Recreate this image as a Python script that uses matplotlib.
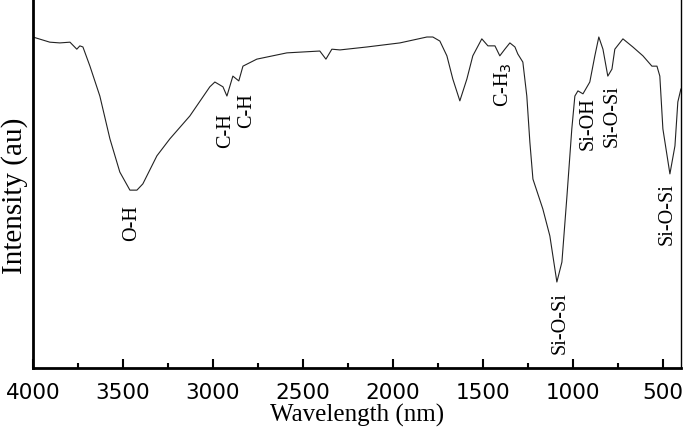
import matplotlib
matplotlib.use('Agg')
import matplotlib.pyplot as plt
from matplotlib.ticker import MultipleLocator

# spectrum (wavenumber, intensity 0-100)
wavenumber = [4000, 3906, 3850, 3794, 3756, 3739, 3722, 3683, 3628, 3572,
              3517, 3461, 3422, 3389, 3311, 3239, 3128, 3017, 2989, 2944,
              2922, 2889, 2856, 2833, 2756, 2589, 2406, 2372, 2339, 2294,
              2144, 1961, 1811, 1778, 1739, 1700, 1667, 1628, 1589, 1556,
              1506, 1472, 1433, 1406, 1378, 1350, 1322, 1306, 1278, 1256,
              1239, 1222, 1167, 1128, 1089, 1061, 1033, 1006, 989, 972,
              944, 906, 878, 856, 833, 806, 783, 767, 722, 667,
              611, 561, 533, 517, 500, 461, 433, 417, 400]
intensity = [89.7, 88.3, 88.1, 88.3, 86.4, 87.3, 87.0, 81.8, 73.7, 62.1,
             53.1, 48.2, 48.2, 49.9, 57.5, 62.1, 68.3, 76.2, 77.5, 76.2,
             73.7, 79.1, 77.8, 81.8, 83.7, 85.4, 85.9, 83.7, 86.4, 86.2,
             87.0, 88.1, 89.7, 89.7, 88.6, 84.6, 78.3, 72.4, 78.3, 84.6,
             89.2, 87.3, 87.3, 84.6, 86.4, 88.1, 87.0, 85.1, 82.9, 73.7,
             61.2, 51.2, 43.1, 35.8, 23.3, 28.7, 46.6, 64.8, 73.7, 75.1,
             74.3, 77.5, 84.6, 89.7, 86.4, 79.1, 81.0, 86.4, 89.2, 87.0,
             84.6, 81.8, 81.8, 79.1, 64.8, 52.6, 60.2, 72.1, 75.6]

# band labels
band_names = ['O-H', 'C-H', 'C-H', 'C-H$_3$', 'Si-OH', 'Si-O-Si', 'Si-O-Si', 'Si-O-Si']
band_pos = [3450, 2928, 2811, 1389, 917, 783, 1072, 478]
band_top = [44.4, 69.4, 74.8, 83.2, 73.7, 77.0, 20.9, 50.4]

serif = ['Liberation Serif', 'DejaVu Serif']

fig = plt.figure(figsize=(6.85, 4.31), dpi=100)
ax = fig.add_axes([0.048, 0.1439, 0.946, 0.8561])

ax.plot(wavenumber, intensity, color='#222222', linewidth=0.8)

for name, x, y in zip(band_names, band_pos, band_top):
    ax.text(x, y, name, rotation=90, ha='center', va='top',
            family=serif, fontsize=14.5, color='black')

ax.set_xlim(4000, 400)
ax.set_ylim(0, 100)

ax.xaxis.set_major_locator(MultipleLocator(500))
ax.xaxis.set_minor_locator(MultipleLocator(250))
ax.tick_params(axis='x', which='major', direction='in', length=6.5, width=1.5,
               pad=10, labelsize=15.5)
ax.tick_params(axis='x', which='minor', direction='in', length=3.8, width=1.5)
for lab in ax.get_xticklabels():
    lab.set_family(['DejaVu Sans'])
ax.set_yticks([])

ax.spines['top'].set_visible(False)
ax.spines['left'].set_linewidth(2)
ax.spines['bottom'].set_linewidth(2)
ax.spines['right'].set_linewidth(1)

ax.set_xlabel('Wavelength (nm)', family=serif, fontsize=18, labelpad=1)
ax.set_ylabel('Intensity (au)', family=serif, fontsize=21)
ax.yaxis.set_label_coords(-0.007, 0.47)

fig.savefig('out.png', dpi=100)
